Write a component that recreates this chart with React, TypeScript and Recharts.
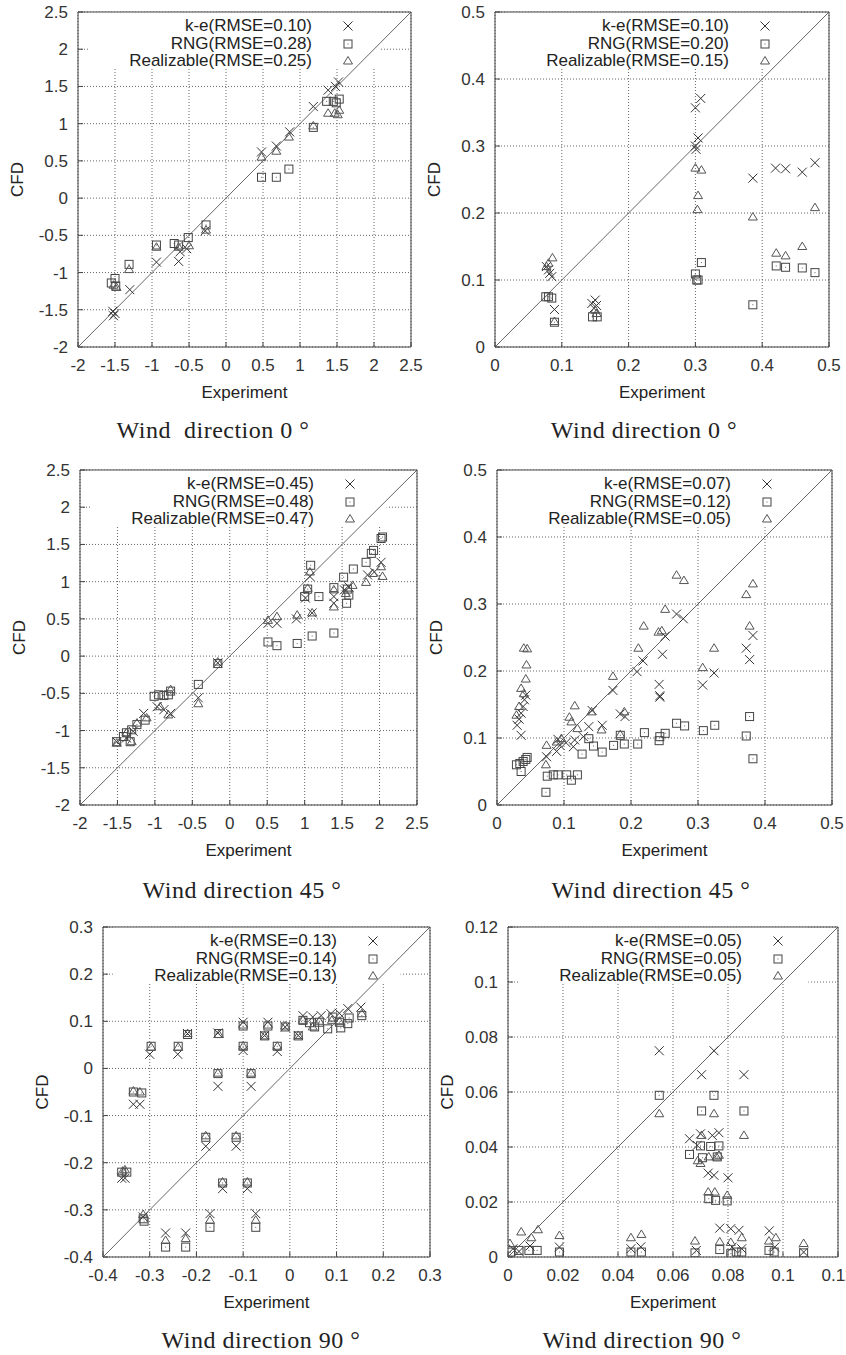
import { CartesianGrid, Legend, ReferenceArea, ReferenceLine, Scatter, ScatterChart, XAxis, YAxis } from "recharts"

type Pt = [number, number]

const models = ["k-e", "RNG", "Realizable"]

// tick labels (same on both axes of each panel)
const ticksWide = [-2, -1.5, -1, -0.5, 0, 0.5, 1, 1.5, 2, 2.5]
const ticksHalf = [0, 0.1, 0.2, 0.3, 0.4, 0.5]
const ticks90a = [-0.4, -0.3, -0.2, -0.1, 0, 0.1, 0.2, 0.3]
const ticks90b = [0, 0.02, 0.04, 0.06, 0.08, 0.1, 0.12]

// wind 0, left panel
const p1Rmse = ["0.10", "0.28", "0.25"]
const p1Ke: Pt[] = [[-1.53, -1.52], [-1.5, -1.55], [-1.52, -1.58], [-1.3, -1.23], [-0.94, -0.86], [-0.64, -0.85], [-0.53, -0.68], [-0.62, -0.72], [-0.28, -0.44], [0.48, 0.62], [0.68, 0.7], [0.86, 0.89], [1.18, 1.23], [1.38, 1.45], [1.48, 1.5], [1.52, 1.56]]
const p1Rng: Pt[] = [[-1.55, -1.14], [-1.5, -1.08], [-1.49, -1.18], [-1.31, -0.89], [-0.94, -0.63], [-0.7, -0.61], [-0.64, -0.63], [-0.51, -0.53], [-0.27, -0.36], [0.48, 0.28], [0.68, 0.28], [0.85, 0.39], [1.18, 0.95], [1.36, 1.3], [1.45, 1.3], [1.53, 1.33], [1.49, 1.28]]
const p1Real: Pt[] = [[-1.52, -1.17], [-1.48, -1.2], [-1.31, -0.96], [-0.94, -0.66], [-0.64, -0.66], [-0.5, -0.64], [-0.27, -0.43], [0.48, 0.55], [0.68, 0.63], [0.85, 0.82], [1.18, 0.97], [1.38, 1.14], [1.47, 1.14], [1.53, 1.18], [1.51, 1.12]]

// wind 0, right panel
const p2Rmse = ["0.10", "0.20", "0.15"]
const p2Ke: Pt[] = [[0.077, 0.12], [0.08, 0.115], [0.082, 0.11], [0.085, 0.105], [0.089, 0.056], [0.145, 0.065], [0.15, 0.07], [0.148, 0.058], [0.152, 0.062], [0.3, 0.357], [0.308, 0.371], [0.304, 0.312], [0.3, 0.3], [0.301, 0.295], [0.386, 0.252], [0.42, 0.267], [0.435, 0.266], [0.46, 0.261], [0.479, 0.275]]
const p2Rng: Pt[] = [[0.076, 0.075], [0.08, 0.075], [0.085, 0.073], [0.089, 0.037], [0.146, 0.045], [0.153, 0.045], [0.3, 0.109], [0.302, 0.1], [0.304, 0.1], [0.309, 0.126], [0.386, 0.063], [0.421, 0.121], [0.435, 0.119], [0.46, 0.118], [0.479, 0.111]]
const p2Real: Pt[] = [[0.077, 0.12], [0.08, 0.125], [0.086, 0.133], [0.089, 0.038], [0.15, 0.055], [0.152, 0.05], [0.3, 0.267], [0.309, 0.264], [0.304, 0.226], [0.303, 0.205], [0.386, 0.194], [0.421, 0.14], [0.435, 0.136], [0.46, 0.15], [0.479, 0.208]]

// wind 45, left panel
const p3Rmse = ["0.45", "0.48", "0.47"]
const p3Ke: Pt[] = [[-1.51, -1.15], [-1.38, -1.1], [-1.29, -1.01], [-1.15, -0.77], [-0.97, -0.68], [-0.88, -0.72], [-0.79, -0.77], [-0.42, -0.56], [-0.16, -0.09], [0.51, 0.44], [0.63, 0.44], [0.89, 0.5], [1.1, 0.58], [1.07, 1.07], [1.01, 0.78], [1.39, 0.71], [1.39, 0.8], [1.53, 0.89], [1.59, 0.93], [1.84, 1.09], [1.93, 1.13], [2.02, 1.26]]
const p3Rng: Pt[] = [[-1.51, -1.15], [-1.42, -1.08], [-1.38, -1.03], [-1.33, -1.15], [-1.31, -0.99], [-1.24, -0.92], [-1.13, -0.86], [-1.01, -0.54], [-0.95, -0.52], [-0.88, -0.53], [-0.82, -0.52], [-0.79, -0.47], [-0.42, -0.38], [-0.16, -0.1], [0.51, 0.19], [0.63, 0.14], [0.9, 0.17], [1.1, 0.27], [1.39, 0.31], [1.0, 0.8], [1.04, 0.9], [1.08, 1.22], [1.19, 0.8], [1.39, 0.92], [1.52, 1.06], [1.56, 0.71], [1.59, 0.82], [1.57, 0.9], [1.65, 1.17], [1.82, 1.26], [1.89, 1.38], [1.92, 1.42], [2.02, 1.58], [2.04, 1.6]]
const p3Real: Pt[] = [[-1.51, -1.17], [-1.38, -1.03], [-1.31, -1.15], [-1.24, -0.9], [-1.11, -0.83], [-0.93, -0.68], [-0.82, -0.79], [-0.79, -0.45], [-0.42, -0.64], [-0.16, -0.08], [0.51, 0.48], [0.63, 0.53], [0.9, 0.55], [1.1, 0.58], [1.04, 0.91], [1.07, 1.13], [1.39, 0.66], [1.39, 0.89], [1.55, 0.84], [1.64, 0.95], [1.82, 0.99], [1.91, 1.11], [2.02, 1.2], [2.04, 1.07]]

// wind 45, right panel
const p4Rmse = ["0.07", "0.12", "0.05"]
const p4Ke: Pt[] = [[0.043, 0.164], [0.041, 0.157], [0.039, 0.147], [0.036, 0.137], [0.033, 0.128], [0.03, 0.119], [0.036, 0.104], [0.074, 0.072], [0.089, 0.08], [0.091, 0.098], [0.094, 0.089], [0.103, 0.093], [0.114, 0.087], [0.116, 0.097], [0.129, 0.102], [0.137, 0.117], [0.142, 0.141], [0.157, 0.119], [0.173, 0.171], [0.184, 0.136], [0.191, 0.132], [0.209, 0.199], [0.218, 0.215], [0.242, 0.18], [0.243, 0.163], [0.243, 0.161], [0.247, 0.225], [0.251, 0.252], [0.268, 0.285], [0.278, 0.278], [0.307, 0.179], [0.324, 0.197], [0.372, 0.234], [0.377, 0.217], [0.382, 0.253]]
const p4Rng: Pt[] = [[0.029, 0.06], [0.034, 0.062], [0.036, 0.05], [0.039, 0.065], [0.043, 0.068], [0.045, 0.071], [0.073, 0.019], [0.075, 0.043], [0.084, 0.045], [0.091, 0.045], [0.104, 0.045], [0.111, 0.037], [0.12, 0.045], [0.127, 0.076], [0.137, 0.099], [0.144, 0.088], [0.157, 0.079], [0.174, 0.089], [0.184, 0.104], [0.19, 0.091], [0.21, 0.091], [0.22, 0.108], [0.242, 0.096], [0.243, 0.102], [0.251, 0.107], [0.268, 0.122], [0.28, 0.118], [0.308, 0.111], [0.325, 0.119], [0.372, 0.103], [0.377, 0.132], [0.382, 0.069]]
const p4Real: Pt[] = [[0.029, 0.134], [0.033, 0.147], [0.04, 0.166], [0.036, 0.174], [0.043, 0.188], [0.044, 0.209], [0.04, 0.234], [0.045, 0.233], [0.073, 0.06], [0.074, 0.089], [0.089, 0.094], [0.096, 0.099], [0.108, 0.131], [0.111, 0.124], [0.116, 0.148], [0.12, 0.114], [0.141, 0.139], [0.156, 0.112], [0.173, 0.192], [0.184, 0.105], [0.19, 0.139], [0.211, 0.234], [0.219, 0.267], [0.241, 0.258], [0.246, 0.26], [0.251, 0.292], [0.268, 0.343], [0.279, 0.335], [0.307, 0.205], [0.324, 0.234], [0.372, 0.314], [0.377, 0.267], [0.382, 0.33]]

// wind 90, left panel
const p5Rmse = ["0.13", "0.14", "0.13"]
const p5Ke: Pt[] = [[-0.36, -0.233], [-0.353, -0.233], [-0.335, -0.076], [-0.321, -0.076], [-0.314, -0.315], [-0.3, 0.03], [-0.266, -0.349], [-0.24, 0.03], [-0.223, -0.349], [-0.219, 0.074], [-0.18, -0.165], [-0.171, -0.308], [-0.154, 0.075], [-0.154, -0.038], [-0.144, -0.255], [-0.115, -0.165], [-0.1, 0.098], [-0.1, 0.038], [-0.091, -0.255], [-0.083, -0.038], [-0.073, -0.308], [-0.054, 0.07], [-0.047, 0.098], [-0.027, 0.036], [-0.01, 0.088], [0.018, 0.07], [0.028, 0.112], [0.049, 0.109], [0.067, 0.112], [0.088, 0.116], [0.106, 0.117], [0.124, 0.127], [0.152, 0.13]]
const p5Rng: Pt[] = [[-0.36, -0.22], [-0.349, -0.22], [-0.335, -0.05], [-0.317, -0.052], [-0.314, -0.319], [-0.312, -0.324], [-0.297, 0.047], [-0.266, -0.379], [-0.239, 0.047], [-0.223, -0.379], [-0.219, 0.072], [-0.18, -0.146], [-0.171, -0.337], [-0.154, -0.011], [-0.152, 0.074], [-0.144, -0.243], [-0.115, -0.146], [-0.1, 0.09], [-0.1, 0.047], [-0.091, -0.243], [-0.083, -0.011], [-0.073, -0.337], [-0.054, 0.069], [-0.047, 0.09], [-0.027, 0.047], [-0.01, 0.088], [0.018, 0.069], [0.028, 0.102], [0.042, 0.097], [0.053, 0.088], [0.063, 0.098], [0.081, 0.084], [0.092, 0.109], [0.106, 0.098], [0.109, 0.086], [0.124, 0.095], [0.127, 0.107], [0.154, 0.112]]
const p5Real: Pt[] = [[-0.358, -0.218], [-0.353, -0.215], [-0.335, -0.048], [-0.321, -0.05], [-0.314, -0.31], [-0.297, 0.045], [-0.266, -0.365], [-0.239, 0.045], [-0.223, -0.361], [-0.219, 0.074], [-0.18, -0.143], [-0.171, -0.322], [-0.154, -0.01], [-0.152, 0.072], [-0.144, -0.241], [-0.115, -0.143], [-0.1, 0.092], [-0.1, 0.047], [-0.091, -0.241], [-0.083, -0.01], [-0.073, -0.322], [-0.054, 0.069], [-0.047, 0.092], [-0.027, 0.047], [-0.01, 0.09], [0.018, 0.07], [0.028, 0.102], [0.049, 0.088], [0.063, 0.1], [0.09, 0.102], [0.106, 0.1], [0.154, 0.116]]

// wind 90, right panel
const p6Rmse = ["0.05", "0.05", "0.05"]
const p6Ke: Pt[] = [[0.0018, 0.003], [0.004, 0.002], [0.008, 0.004], [0.0187, 0.0036], [0.0447, 0.003], [0.0483, 0.0037], [0.055, 0.075], [0.066, 0.043], [0.0685, 0.0024], [0.0688, 0.0406], [0.07, 0.0448], [0.0704, 0.0663], [0.0728, 0.0305], [0.0743, 0.0442], [0.0749, 0.075], [0.0749, 0.0297], [0.0767, 0.0452], [0.077, 0.0105], [0.08, 0.0288], [0.081, 0.0103], [0.0815, 0.0036], [0.084, 0.0097], [0.085, 0.003], [0.0858, 0.0663], [0.095, 0.0095], [0.097, 0.0036], [0.1075, 0.0018]]
const p6Rng: Pt[] = [[0.0009, 0.0018], [0.004, 0.0024], [0.0076, 0.0024], [0.0106, 0.0024], [0.0187, 0.0018], [0.0447, 0.0018], [0.0485, 0.0018], [0.055, 0.0588], [0.066, 0.0373], [0.068, 0.0015], [0.07, 0.0404], [0.0704, 0.0531], [0.0707, 0.0361], [0.073, 0.0212], [0.0737, 0.0402], [0.0749, 0.0588], [0.0755, 0.0206], [0.0761, 0.0364], [0.0767, 0.0404], [0.077, 0.0027], [0.0797, 0.0204], [0.081, 0.0012], [0.083, 0.0018], [0.085, 0.0018], [0.0858, 0.0531], [0.0949, 0.0024], [0.0968, 0.0018], [0.1075, 0.0015]]
const p6Real: Pt[] = [[0.0007, 0.0049], [0.0048, 0.0091], [0.0085, 0.007], [0.0109, 0.0099], [0.0187, 0.0078], [0.0447, 0.007], [0.0485, 0.0082], [0.055, 0.0521], [0.068, 0.0058], [0.069, 0.035], [0.07, 0.034], [0.0704, 0.0442], [0.0728, 0.0236], [0.073, 0.0364], [0.0749, 0.0521], [0.0752, 0.0236], [0.0758, 0.0364], [0.0767, 0.037], [0.077, 0.0055], [0.0797, 0.0224], [0.081, 0.0053], [0.085, 0.007], [0.0858, 0.0442], [0.0949, 0.0058], [0.0974, 0.007], [0.1075, 0.0049]]

const captions = ["Wind  direction 0 °", "Wind direction 0 °", "Wind direction 45 °", "Wind direction 45 °", "Wind direction 90 °", "Wind direction 90 °"]

const SANS = "'Liberation Sans', Arial, Helvetica, sans-serif"
const SERIF = "'Liberation Serif', 'Times New Roman', serif"
const AXW = 80
const TOP = 10
const RIGHT = 26
const BOTTOM = 70

// plot rectangles on the page
const panels = [
  { x0: 78, y0: 12, w: 333, h: 335, ticks: ticksWide, rmse: p1Rmse, series: [p1Ke, p1Rng, p1Real], cap: [213, 430] },
  { x0: 495, y0: 12, w: 334, h: 335, ticks: ticksHalf, rmse: p2Rmse, series: [p2Ke, p2Rng, p2Real], cap: [644, 430] },
  { x0: 80, y0: 470, w: 337, h: 335, ticks: ticksWide, rmse: p3Rmse, series: [p3Ke, p3Rng, p3Real], cap: [242, 890] },
  { x0: 497, y0: 470, w: 335, h: 335, ticks: ticksHalf, rmse: p4Rmse, series: [p4Ke, p4Rng, p4Real], cap: [651, 890] },
  { x0: 103, y0: 927, w: 327, h: 330, ticks: ticks90a, rmse: p5Rmse, series: [p5Ke, p5Rng, p5Real], cap: [261, 1340] },
  { x0: 508, y0: 927, w: 330, h: 330, ticks: ticks90b, rmse: p6Rmse, series: [p6Ke, p6Rng, p6Real], cap: [642, 1340] },
]

function marker(kind: number, cx: number, cy: number) {
  if (kind === 0) {
    const r = 4.5
    return (
      <g stroke="#333" strokeWidth={1}>
        <line x1={cx - r} y1={cy - r} x2={cx + r} y2={cy + r} />
        <line x1={cx - r} y1={cy + r} x2={cx + r} y2={cy - r} />
      </g>
    )
  }
  if (kind === 1) {
    return (
      <g>
        <rect x={cx - 4} y={cy - 4} width={8} height={8} fill="none" stroke="#444" strokeWidth={1} />
        <rect x={cx - 0.5} y={cy - 0.5} width={1} height={1} fill="#666" />
      </g>
    )
  }
  return <polygon points={`${cx},${cy - 4.5} ${cx - 4.5},${cy + 3} ${cx + 4.5},${cy + 3}`} fill="none" stroke="#555" strokeWidth={1} />
}

function Panel({ cfg }: { cfg: (typeof panels)[number] }) {
  const { x0, y0, w, h, ticks, rmse, series } = cfg
  const lo = ticks[0]
  const hi = ticks[ticks.length - 1]
  const span = hi - lo
  const names = models.map((m, i) => `${m}(RMSE=${rmse[i]})`)
  const axisText = { fontSize: 17, fill: "#333", fontFamily: SANS }

  // keep the series order (the library would sort entries by name)
  const legend = () => (
    <div style={{ fontFamily: SANS, fontSize: 17, color: "#222" }}>
      {names.map((n, i) => (
        <div key={n} style={{ display: "flex", height: 17.5, alignItems: "center" }}>
          <span style={{ width: 234, textAlign: "right", whiteSpace: "nowrap", lineHeight: "17.5px" }}>{n}</span>
          <svg width={60} height={17.5} style={{ display: "block" }}>
            {marker(i, 36, 9)}
          </svg>
        </div>
      ))}
    </div>
  )

  return (
    <div style={{ position: "absolute", left: x0 - AXW, top: y0 - TOP }}>
      <ScatterChart width={w + AXW + RIGHT} height={h + TOP + BOTTOM} margin={{ top: TOP - 1, right: RIGHT - 1, left: 0, bottom: 0 }}>
        <CartesianGrid stroke="#666" strokeDasharray="1 2" />
        <ReferenceArea
          x1={lo + span * 0.03}
          x2={lo + span * 0.91}
          y1={hi - span * 0.17}
          y2={hi}
          fill="#fff"
          fillOpacity={1}
          stroke="none"
        />
        <ReferenceLine segment={[{ x: lo, y: lo }, { x: hi, y: hi }]} stroke="#666" strokeWidth={1} />
        <XAxis
          type="number"
          dataKey="x"
          domain={[lo, hi]}
          ticks={ticks}
          interval={0}
          allowDataOverflow
          height={BOTTOM}
          tickSize={-5}
          tickMargin={17}
          stroke="#444"
          tick={axisText}
          label={{
            content: () => (
              <text x={AXW + w / 2} y={TOP + h + 45} textAnchor="middle" dominantBaseline="central" fontFamily={SANS} fontSize={17} fill="#222">
                Experiment
              </text>
            ),
          }}
        />
        <YAxis
          type="number"
          dataKey="y"
          domain={[lo, hi]}
          ticks={ticks}
          interval={0}
          allowDataOverflow
          width={AXW}
          tickSize={-5}
          tickMargin={15}
          stroke="#444"
          tick={axisText}
          label={{
            content: () => (
              <text
                x={AXW - 61}
                y={TOP + h / 2}
                textAnchor="middle"
                dominantBaseline="central"
                fontFamily={SANS}
                fontSize={17}
                fill="#222"
                transform={`rotate(-90 ${AXW - 61} ${TOP + h / 2})`}
              >
                CFD
              </text>
            ),
          }}
        />
        <XAxis xAxisId="top" orientation="top" type="number" domain={[lo, hi]} ticks={ticks} height={1} tickSize={-5} tick={false} stroke="#444" />
        <YAxis yAxisId="right" orientation="right" type="number" domain={[lo, hi]} ticks={ticks} width={1} tickSize={-5} tick={false} stroke="#444" />
        {series.map((pts, i) => (
          <Scatter
            key={i}
            name={names[i]}
            data={pts.map(([x, y]) => ({ x, y }))}
            isAnimationActive={false}
            shape={(p: any) => marker(i, p.cx, p.cy)}
          />
        ))}
        <Legend
          layout="vertical"
          align="center"
          verticalAlign="middle"
          content={legend}
          wrapperStyle={{ left: AXW, top: TOP + 5, width: 300, height: 55 }}
        />
      </ScatterChart>
    </div>
  )
}

export default function App() {
  return (
    <div style={{ position: "absolute", left: 0, top: 0, width: 846, height: 1355, overflow: "hidden", background: "#fff" }}>
      {panels.map((p, i) => (
        <Panel key={i} cfg={p} />
      ))}
      {panels.map((p, i) => (
        <div
          key={"c" + i}
          style={{
            position: "absolute",
            left: p.cap[0] - 150,
            top: p.cap[1] - 15,
            width: 300,
            textAlign: "center",
            lineHeight: "30px",
            fontFamily: SERIF,
            fontSize: 24,
            letterSpacing: 0.5,
            whiteSpace: "pre",
            color: "#222",
          }}
        >
          {captions[i]}
        </div>
      ))}
    </div>
  )
}
